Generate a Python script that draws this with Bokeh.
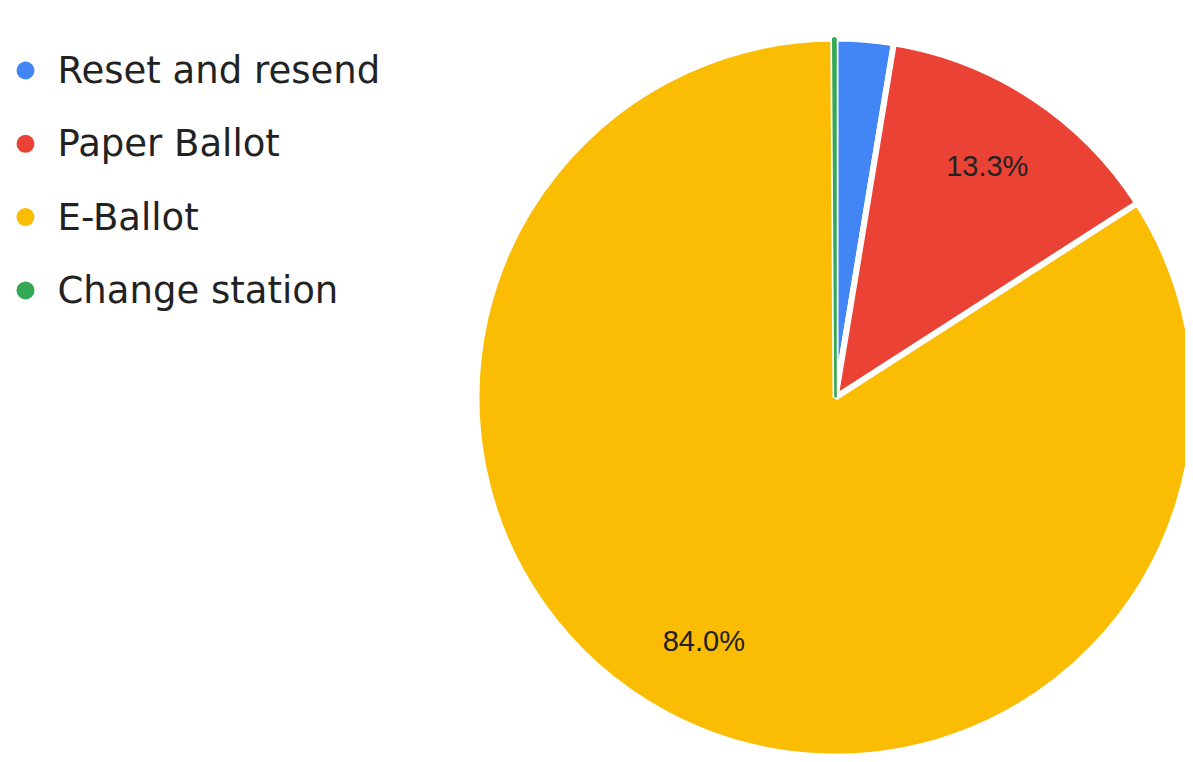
import numpy as np
from bokeh.plotting import figure
from bokeh.models import Range1d, ColumnDataSource
from bokeh.core.properties import value
from bokeh.embed import file_html
from bokeh.resources import INLINE

categories = ["Reset and resend", "Paper Ballot", "E-Ballot", "Change station"]
percents = [2.6, 13.3, 84.0, 0.1]
colors = ["#4285F4", "#EA4335", "#FBBC04", "#34A853"]

W, H = 1185, 754
p = figure(width=W, height=H, output_backend="svg", toolbar_location=None,
           x_range=Range1d(0, W), y_range=Range1d(0, H), min_border=0)
p.axis.visible = False
p.grid.visible = False
p.outline_line_color = None
p.background_fill_color = "white"

cx, cy, r = 835, 357, 359
vals = np.array(percents, dtype=float)
frac = vals / vals.sum()
cum = np.concatenate([[0], np.cumsum(frac)])
start = np.pi / 2 - cum[:-1] * 2 * np.pi
end = np.pi / 2 - cum[1:] * 2 * np.pi
line_cols = ["white", "white", "white", colors[3]]
line_w = [6, 6, 6, 2.5]
src = ColumnDataSource(dict(start=start, end=end, color=colors, lc=line_cols, lw=line_w))
p.wedge(x=cx, y=cy, radius=r, start_angle="start", end_angle="end", direction="clock",
        fill_color="color", line_color="lc", line_width="lw", source=src)

# percent labels
mid = (start + end) / 2
show = frac >= 0.05
lx = cx + 0.77 * r * np.cos(mid[show])
ly = cy + 0.77 * r * np.sin(mid[show])
labels = [f"{v:.1f}%" for v in (frac[show] * 100)]
p.text(x=lx, y=ly, text=labels, text_align="center", text_baseline="middle",
       text_font=value("Liberation Sans"), text_font_size="29px", text_color="#222222")

# legend
n = len(categories)
ly0, step = 684, 73.3
leg_y = [ly0 - i * step for i in range(n)]
p.scatter(x=[25] * n, y=leg_y, size=18, fill_color=colors, line_color=None)
p.text(x=[57] * n, y=leg_y, text=categories, text_align="left", text_baseline="middle",
       text_font=value("DejaVu Sans"), text_font_size="37px", text_color="#222222")

open("out.html", "w").write(file_html(p, INLINE))
